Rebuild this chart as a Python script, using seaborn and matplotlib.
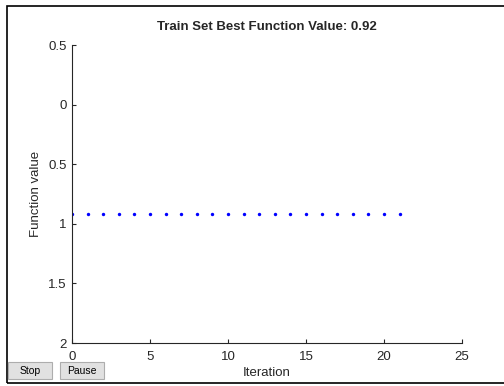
import numpy as np
import pandas as pd
import matplotlib
matplotlib.use("Agg")
import matplotlib.pyplot as plt
import seaborn as sns
from matplotlib.patches import Rectangle

# Data
iterations = list(range(0, 22))
func_values = [0.92] * len(iterations)
y_ticks = [-0.5, 0, 0.5, 1, 1.5, 2]
y_tick_labels = ["0.5", "0", "0.5", "1", "1.5", "2"]
x_ticks = [0, 5, 10, 15, 20, 25]
title_text = "Train Set Best Function Value: 0.92"

df = pd.DataFrame({"Iteration": iterations, "Function value": func_values})

sns.set_style("white")
plt.rcParams["font.family"] = ["Liberation Sans", "DejaVu Sans"]

fig = plt.figure(figsize=(5.04, 3.86), dpi=100)
ax = fig.add_axes([72 / 504, 1 - 343 / 386, 390 / 504, 298 / 386])

sns.scatterplot(data=df, x="Iteration", y="Function value", ax=ax,
                color="blue", marker="o", s=6, linewidth=0)

ax.set_xlim(0, 25)
ax.set_ylim(2, -0.5)
ax.set_xticks(x_ticks)
ax.set_yticks(y_ticks)
ax.set_yticklabels(y_tick_labels)
ax.tick_params(direction="in", length=3, width=0.8, labelsize=9.5,
               colors="#262626", pad=4, left=True, bottom=True)
ax.tick_params(axis="x", pad=5.5)
for s in ["top", "right"]:
    ax.spines[s].set_visible(False)
for s in ["left", "bottom"]:
    ax.spines[s].set_color("#262626")
    ax.spines[s].set_linewidth(0.8)

ax.set_xlabel("Iteration", fontsize=9.5, color="#262626", labelpad=3)
ax.set_ylabel("Function value", fontsize=9.5, color="#262626", labelpad=4)
ax.set_title(title_text, fontsize=9.5, fontweight="bold", pad=11)

# outer figure frame
fig.add_artist(Rectangle((7 / 504, 1 - 383 / 386), 1.0, (383 - 6) / 386,
                         transform=fig.transFigure, fill=False,
                         edgecolor="black", linewidth=1.2))

# Stop / Pause buttons
for x0, x1, label in [(8, 52, "Stop"), (60, 104, "Pause")]:
    fig.add_artist(Rectangle((x0 / 504, 1 - 379 / 386), (x1 - x0) / 504, 17 / 386,
                             transform=fig.transFigure, facecolor="#e1e1e1",
                             edgecolor="#adadad", linewidth=0.8))
    fig.text((x0 + x1) / 2 / 504, 1 - 370.5 / 386, label, ha="center",
             va="center", fontsize=7.5, color="black")

fig.savefig("out.png", dpi=100)
